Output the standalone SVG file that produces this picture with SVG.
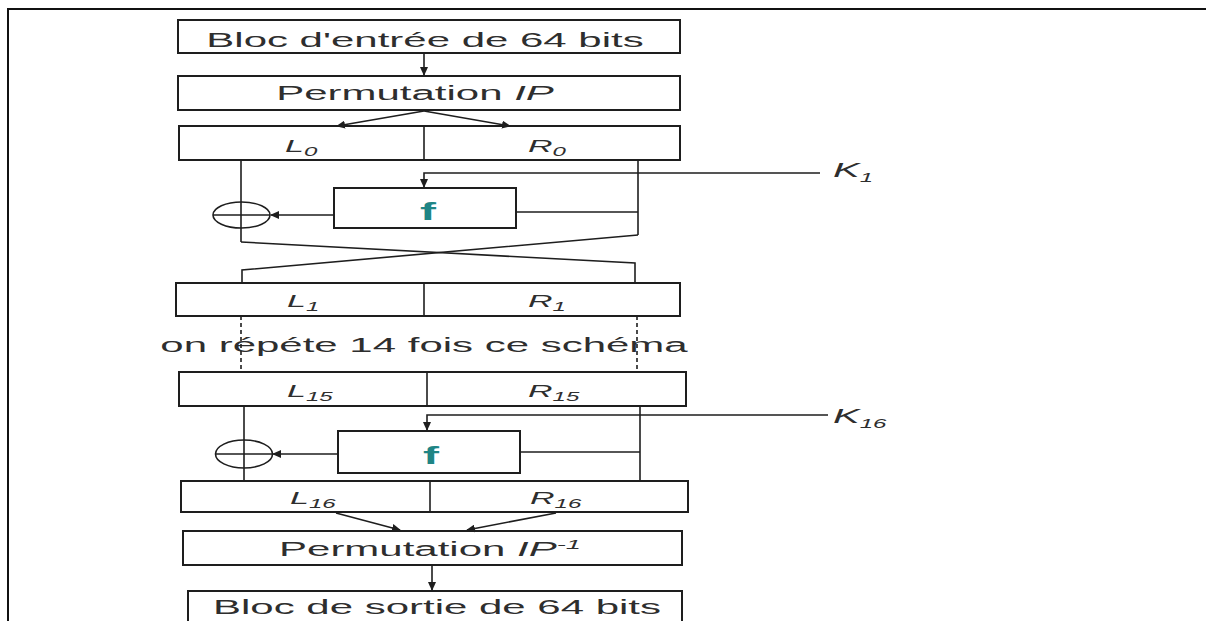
<svg xmlns="http://www.w3.org/2000/svg" width="1206" height="621" viewBox="0 0 1206 621">
  <style>
    .box { fill: #ffffff; stroke: #1e1e1e; stroke-width: 2; }
    .ln { fill: none; stroke: #1e1e1e; stroke-width: 1.6; }
    .dash { fill: none; stroke: #1e1e1e; stroke-width: 1.6; stroke-dasharray: 4 3; }
    .txt { font-family: "Liberation Sans", Arial, sans-serif; font-size: 20px; fill: #2e2e2e; }
    .lbl { font-family: "Liberation Sans", Arial, sans-serif; font-size: 17px; font-style: italic; fill: #2e2e2e; }
    .key { font-family: "Liberation Sans", Arial, sans-serif; font-size: 20px; font-style: italic; fill: #2e2e2e; }
    .fn { font-family: "Liberation Sans", Arial, sans-serif; font-size: 24px; font-weight: bold; fill: #1f8585; }
    .sub { font-size: 12px; }
  </style>
  <defs>
    <marker id="arr" markerWidth="9" markerHeight="8" refX="8" refY="4" orient="auto" markerUnits="userSpaceOnUse">
      <path d="M0,0 L9,4 L0,8 z" fill="#1e1e1e"/>
    </marker>
  </defs>

  <rect width="1206" height="621" fill="#ffffff"/>
  <!-- page frame -->
  <path d="M8,621 V9 H1206" fill="none" stroke="#111" stroke-width="2"/>

  <!-- input block -->
  <g id="input">
    <rect class="box" x="178" y="20" width="502" height="33"/>
    <text class="txt" text-anchor="middle" transform="translate(425,47) scale(2.1,1)">Bloc d'entrée de 64 bits</text>
  </g>

  <!-- initial permutation -->
  <g id="ip">
    <rect class="box" x="178" y="76" width="502" height="34"/>
    <text class="txt" text-anchor="middle" transform="translate(415,100) scale(2.1,1)">Permutation <tspan font-style="italic">IP</tspan></text>
  </g>

  <!-- round 1 halves -->
  <g id="lr0">
    <rect class="box" x="179" y="126" width="501" height="34"/>
    <line class="ln" x1="424" y1="126" x2="424" y2="160" stroke-width="2"/>
    <text class="lbl" transform="translate(285,152) scale(2,1)">L<tspan class="sub" dy="4">0</tspan></text>
    <text class="lbl" transform="translate(528,152) scale(2,1)">R<tspan class="sub" dy="4">0</tspan></text>
  </g>

  <g id="f1">
    <rect class="box" x="334" y="188" width="182" height="40"/>
    <text class="fn" text-anchor="middle" transform="translate(428,220) scale(2,1)">f</text>
  </g>

  <g id="xor1">
    <ellipse class="ln" cx="241.5" cy="215" rx="28.5" ry="13"/>
    <line class="ln" x1="213" y1="215" x2="270" y2="215"/>
  </g>

  <g id="k1">
    <text class="key" transform="translate(833,177) scale(2,1)">K<tspan class="sub" dy="5">1</tspan></text>
  </g>

  <!-- round 2 halves -->
  <g id="lr1">
    <rect class="box" x="176" y="283" width="504" height="33"/>
    <line class="ln" x1="424" y1="283" x2="424" y2="316" stroke-width="2"/>
    <text class="lbl" transform="translate(287,307) scale(2,1)">L<tspan class="sub" dy="4">1</tspan></text>
    <text class="lbl" transform="translate(528,307) scale(2,1)">R<tspan class="sub" dy="4">1</tspan></text>
  </g>

  <g id="repeat">
    <text class="txt" text-anchor="middle" transform="translate(424,352) scale(2.1,1)">on répéte 14 fois ce schéma</text>
  </g>

  <!-- round 16 halves -->
  <g id="lr15">
    <rect class="box" x="179" y="372" width="507" height="34"/>
    <line class="ln" x1="427" y1="372" x2="427" y2="406" stroke-width="2"/>
    <text class="lbl" transform="translate(287,397) scale(2,1)">L<tspan class="sub" dy="4">15</tspan></text>
    <text class="lbl" transform="translate(528,397) scale(2,1)">R<tspan class="sub" dy="4">15</tspan></text>
  </g>

  <g id="f16">
    <rect class="box" x="338" y="431" width="182" height="42"/>
    <text class="fn" text-anchor="middle" transform="translate(431,464) scale(2,1)">f</text>
  </g>

  <g id="xor16">
    <ellipse class="ln" cx="244" cy="454" rx="28.5" ry="14"/>
    <line class="ln" x1="215.5" y1="454" x2="272.5" y2="454"/>
  </g>

  <g id="k16">
    <text class="key" transform="translate(833,423) scale(2,1)">K<tspan class="sub" dy="5">16</tspan></text>
  </g>

  <g id="lr16">
    <rect class="box" x="181" y="481" width="507" height="31"/>
    <line class="ln" x1="430" y1="481" x2="430" y2="512" stroke-width="2"/>
    <text class="lbl" transform="translate(290,504) scale(2,1)">L<tspan class="sub" dy="4">16</tspan></text>
    <text class="lbl" transform="translate(530,504) scale(2,1)">R<tspan class="sub" dy="4">16</tspan></text>
  </g>

  <!-- final permutation -->
  <g id="ipinv">
    <rect class="box" x="183" y="531" width="499" height="34"/>
    <text class="txt" text-anchor="middle" transform="translate(430,556) scale(2.1,1)">Permutation <tspan font-style="italic">IP</tspan><tspan font-style="italic" font-size="13" dy="-7">-1</tspan></text>
  </g>

  <g id="output">
    <rect class="box" x="188" y="591" width="494" height="40"/>
    <text class="txt" text-anchor="middle" transform="translate(437,614) scale(2.1,1)">Bloc de sortie de 64 bits</text>
  </g>

  <!-- connectors -->
  <g id="connectors">
    <line class="ln" x1="424" y1="53" x2="424" y2="75" marker-end="url(#arr)"/>
    <line class="ln" x1="424" y1="111" x2="337" y2="126" marker-end="url(#arr)"/>
    <line class="ln" x1="424" y1="111" x2="510" y2="126" marker-end="url(#arr)"/>

    <!-- round 1 -->
    <line class="ln" x1="241" y1="160" x2="241" y2="242"/>
    <line class="ln" x1="638" y1="160" x2="638" y2="235"/>
    <polyline class="ln" points="820,173 424,173 424,187" marker-end="url(#arr)"/>
    <line class="ln" x1="516" y1="212" x2="638" y2="212"/>
    <line class="ln" x1="334" y1="215" x2="271" y2="215" marker-end="url(#arr)"/>
    <polyline class="ln" points="241,242 635,263 635,283"/>
    <polyline class="ln" points="638,235 242,270 242,283"/>

    <!-- repeated rounds -->
    <line class="dash" x1="241" y1="316" x2="241" y2="372"/>
    <line class="dash" x1="637" y1="316" x2="637" y2="372"/>

    <!-- round 16 -->
    <line class="ln" x1="244" y1="406" x2="244" y2="481"/>
    <line class="ln" x1="640" y1="406" x2="640" y2="481"/>
    <polyline class="ln" points="828,415 427,415 427,430" marker-end="url(#arr)"/>
    <line class="ln" x1="520" y1="452" x2="640" y2="452"/>
    <line class="ln" x1="338" y1="454" x2="273" y2="454" marker-end="url(#arr)"/>

    <line class="ln" x1="336" y1="513" x2="400" y2="530" marker-end="url(#arr)"/>
    <line class="ln" x1="556" y1="513" x2="467" y2="530" marker-end="url(#arr)"/>
    <line class="ln" x1="432" y1="565" x2="432" y2="590" marker-end="url(#arr)"/>
  </g>
</svg>
